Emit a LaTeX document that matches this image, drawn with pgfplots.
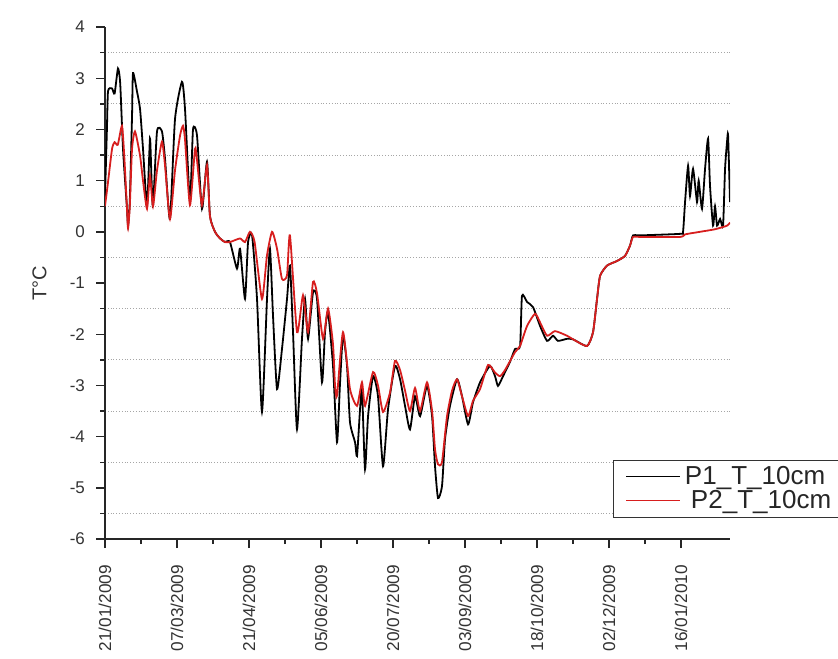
\documentclass[border=0pt]{standalone}
\usepackage{pgfplots}
\pgfplotsset{compat=1.18}
\usepackage{fontspec}
\setmainfont{Liberation Sans}
\definecolor{pred}{RGB}{215,30,30}
\begin{document}
\begin{tikzpicture}
\begin{axis}[
  name=ax,
  scale only axis,
  width=312.5pt, height=256pt,
  xmin=0, xmax=390.6, ymin=-6, ymax=4,
  axis lines=left,
  axis line style={line width=0.8pt, black!85, -},
  xtick={0,45,90,135,180,225,270,315,360},
  xticklabels={21/01/2009,07/03/2009,21/04/2009,05/06/2009,20/07/2009,03/09/2009,18/10/2009,02/12/2009,16/01/2010},
  x tick label style={rotate=90, anchor=east, font=\fontsize{8.6}{10}\selectfont, text=black!80, yshift=0pt, xshift=-5pt},
  minor x tick num=1,
  ytick={-6,-5,-4,-3,-2,-1,0,1,2,3,4},
  minor y tick num=1,
  y tick label style={font=\fontsize{8.5}{10}\selectfont, text=black!80, xshift=-2pt},
  tick align=outside,
  major tick length=4.5pt,
  minor tick length=2.5pt,
  tick style={line width=0.7pt, black!85},
  yminorgrids=true,
  minor grid style={densely dotted, black!35, line width=0.5pt},
  /pgf/number format/assume math mode=true,
  ylabel={T\textdegree C},
  ylabel style={at={(axis description cs:-0.105,0.5)}, anchor=center, font=\fontsize{10}{12}\selectfont, text=black!80},
  legend style={at={(axis description cs:0.813,0.041)}, anchor=south west, draw=black!80, line width=0.6pt, font=\fontsize{13}{14}\selectfont, text=black!85, inner xsep=6pt, inner ysep=1pt, row sep=-2.5pt},
  legend cell align=left,
  legend image code/.code={\draw[#1, line width=0.6pt] (0cm,0cm) -- (0.95cm,0cm);},
]
\addplot[black, line width=0.9pt, smooth, tension=0.35] coordinates {
(0,0.7)(1.2,2.0)(1.9,2.75)(4.4,2.8)(6,2.7)(8.1,3.19)(9.5,2.9)(11.25,1.62)(13.75,0.45)(14.4,0.12)(15.5,0.6)(16.9,2.27)(17.5,3.1)(20,2.74)(21.9,2.4)(23.75,1.62)(26.25,0.5)(28.1,1.82)(29,1.1)(30,0.5)(32.5,1.96)(35.6,1.96)(37.5,1.43)(40.6,0.25)(43.75,2.2)(48.1,2.93)(50,2.4)(53.1,0.59)(55,2.0)(57.5,1.88)(60.6,0.45)(63.75,1.37)(65.6,0.31)(68.75,0.0)(71.9,-0.13)(75,-0.2)(78.1,-0.2)(82.5,-0.72)(84.4,-0.33)(87.5,-1.31)(89.4,-0.2)(91.9,-0.07)(95,-1.31)(98.1,-3.52)(101.25,-1.31)(103.1,-0.33)(105,-1.64)(107.5,-3.07)(110.6,-2.29)(113.75,-1.31)(115.6,-0.66)(117.5,-1.96)(120,-3.86)(123.1,-2.09)(125,-1.31)(126.9,-2.09)(130,-1.18)(132.5,-1.31)(135.6,-2.94)(137.5,-1.96)(139.4,-1.57)(142.5,-2.62)(145,-4.11)(146.9,-2.94)(148.75,-2.03)(151.25,-2.62)(153.1,-3.72)(156.25,-4.11)(157.5,-4.38)(159.4,-3.46)(160.6,-3.07)(162.5,-4.64)(164.4,-3.6)(167.5,-2.82)(170.6,-3.21)(173.75,-4.58)(176.9,-3.46)(181.25,-2.62)(184.4,-2.88)(187.5,-3.4)(190.6,-3.86)(193.75,-3.21)(196.9,-3.6)(201.25,-3.01)(204.4,-3.6)(206.25,-4.58)(208.1,-5.2)(210.6,-4.97)(212.5,-4.05)(215.6,-3.4)(220,-2.88)(223.1,-3.21)(226.9,-3.76)(230,-3.33)(234.4,-2.94)(240.6,-2.62)(243.75,-2.82)(245.6,-3.01)(248.75,-2.82)(253.1,-2.54)(256.25,-2.29)(259.4,-2.23)(260.6,-1.25)(263.75,-1.37)(267.5,-1.47)(271.9,-1.84)(276.25,-2.13)(280,-2.03)(283.1,-2.13)(288.75,-2.09)(292.5,-2.1)(301.25,-2.23)(305,-1.96)(307.5,-1.31)(309.4,-0.86)(313.75,-0.66)(320,-0.57)(325,-0.47)(328.1,-0.27)(330,-0.07)(334.4,-0.07)(359.4,-0.04)(361.25,0.0)(362.5,0.58)(364.4,1.29)(365.6,0.7)(367.5,1.23)(370,0.58)(371,1.0)(373.1,0.45)(375,1.23)(376.9,1.82)(378.1,0.9)(380,0.12)(381.25,0.5)(382.5,0.12)(384.4,0.25)(386.25,0.12)(387.5,1.23)(388.75,1.76)(389.4,1.88)(390.6,0.58)
};
\addlegendentry{P1\_T\_10cm}
\addplot[pred, line width=0.9pt, smooth, tension=0.35] coordinates {
(0,0.5)(2,1.0)(4.4,1.62)(6,1.75)(8,1.7)(10.6,2.07)(12,1.5)(13.75,0.45)(14.4,0.07)(15.5,0.5)(16.9,1.62)(18.75,1.96)(21.9,1.49)(23.75,1.0)(26.25,0.45)(28.1,1.1)(30,0.5)(32.5,1.2)(35.6,1.76)(37.5,1.3)(40.6,0.25)(43.75,1.2)(46.9,1.88)(48.75,2.07)(50,1.8)(53.1,0.52)(56.25,1.62)(57.5,1.4)(60.6,0.52)(63.75,1.3)(65.6,0.3)(68.75,0.0)(71.9,-0.13)(75,-0.2)(78.1,-0.2)(84.4,-0.13)(87.5,-0.2)(90.6,0.0)(93.5,-0.2)(98.1,-1.31)(101.25,-0.46)(104.4,0.0)(107.5,-0.33)(110.6,-0.92)(113.75,-0.85)(115.6,-0.07)(120,-1.96)(123.75,-1.24)(126.9,-1.96)(130,-0.98)(132.5,-1.2)(136.25,-2.09)(139.4,-1.5)(142.5,-2.2)(143.75,-3.0)(145,-3.2)(148.75,-1.96)(153.1,-3.07)(157.5,-3.4)(160.6,-2.94)(162.5,-3.4)(167.5,-2.74)(170.6,-3.0)(173.75,-3.52)(178.1,-3.14)(181.25,-2.52)(184.4,-2.7)(187.5,-3.1)(190.6,-3.5)(193.75,-3.05)(196.9,-3.5)(201.25,-2.94)(204.4,-3.5)(206.25,-4.25)(208.1,-4.54)(210.6,-4.5)(213.75,-3.6)(216.9,-3.1)(220,-2.88)(223.1,-3.21)(226.9,-3.6)(230,-3.3)(234.4,-3.07)(239.4,-2.6)(243.75,-2.75)(246.9,-2.82)(250,-2.7)(256.25,-2.35)(259.4,-2.23)(263.75,-1.84)(268.75,-1.6)(271.9,-1.77)(276.25,-2.03)(281.25,-1.94)(288.75,-2.03)(292.5,-2.1)(301.25,-2.23)(305,-1.96)(307.5,-1.31)(309.4,-0.86)(313.75,-0.66)(320,-0.57)(325,-0.47)(328.1,-0.27)(330,-0.1)(334.4,-0.1)(359.4,-0.1)(362.5,-0.05)(371.9,0.0)(381.25,0.05)(388.75,0.12)(390.6,0.18)
};
\addlegendentry{\hspace{3pt}P2\_T\_10cm}
\end{axis}
\pgfresetboundingbox
\path[use as bounding box] (-52.5pt,-59.5pt) rectangle (366.5pt,269.5pt);
\end{tikzpicture}
\end{document}
